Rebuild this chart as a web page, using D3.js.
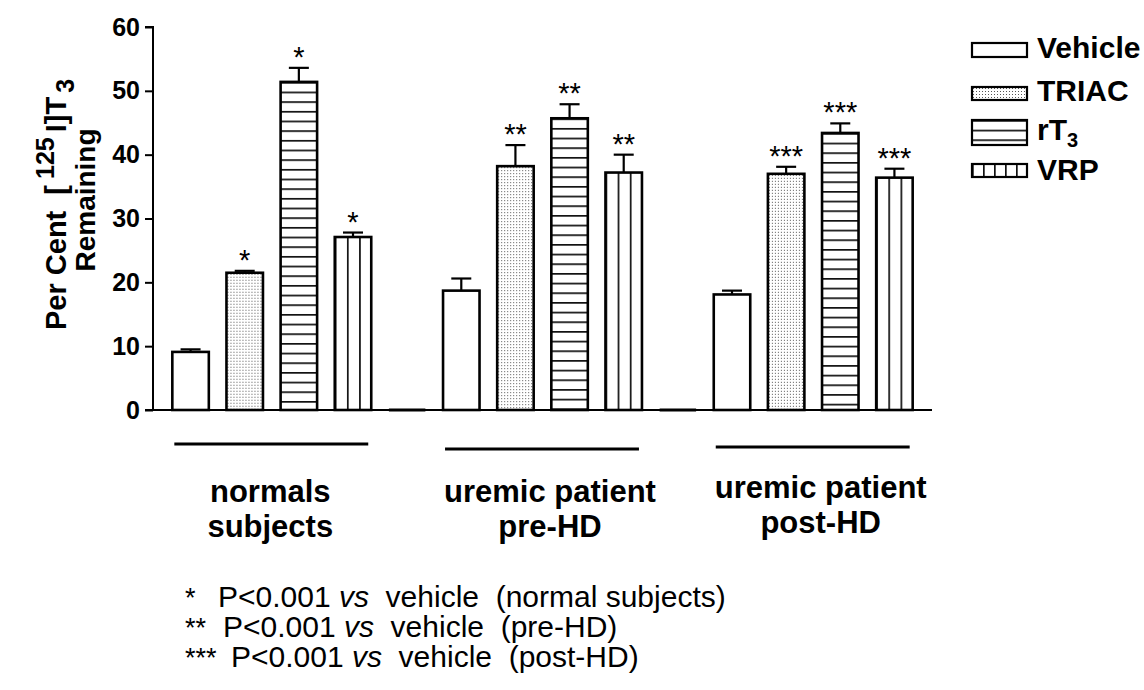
<!DOCTYPE html>
<html><head><meta charset="utf-8">
<script src="https://cdn.jsdelivr.net/npm/d3@7"></script>
<style>
html,body{margin:0;padding:0;background:#fff;}
svg{display:block;font-family:"Liberation Sans",Arial,sans-serif;}
.pre{white-space:pre;}
</style></head><body>
<svg id="chart" width="1144" height="690"></svg>
<script>
// ---- data ----
const groupLine1 = ["normals", "uremic patient", "uremic patient"];
const groupLine2 = ["subjects", "pre-HD", "post-HD"];
const treatments = ["Vehicle", "TRIAC", "rT3", "VRP"];

const vehicleMean = [9.1, 18.7, 18.1];
const vehicleSem  = [0.4, 1.9, 0.6];
const triacMean   = [21.5, 38.2, 37.0];
const triacSem    = [0.3, 3.3, 1.1];
const rt3Mean     = [51.4, 45.7, 43.4];
const rt3Sem      = [2.2, 2.2, 1.5];
const vrpMean     = [27.1, 37.2, 36.4];
const vrpSem      = [0.7, 2.8, 1.4];

const sigMarks = [
  ["", "*", "*", "*"],
  ["", "**", "**", "**"],
  ["", "***", "***", "***"]
];

const yTicks = [0, 10, 20, 30, 40, 50, 60];
const footMarks = ["*", "**", "***"];
const footRefs = ["(normal subjects)", "(pre-HD)", "(post-HD)"];

// ---- layout ----
const svg = d3.select("#chart");
const defs = svg.append("defs");
const axisX0 = 153, axisX1 = 932, baseY = 410, topY = 27;

const means = [vehicleMean, triacMean, rt3Mean, vrpMean];
const sems  = [vehicleSem, triacSem, rt3Sem, vrpSem];

// one band slot per bar, plus an empty slot between groups
const slots = [];
groupLine1.forEach((g, gi) => {
  treatments.forEach((t, ti) => slots.push({key: `g${gi}-${ti}`, gi, ti}));
  if (gi < groupLine1.length - 1) slots.push({key: `gap${gi}`, gap: true});
});

const x = d3.scaleBand()
  .domain(slots.map(d => d.key))
  .range([axisX0, axisX1])
  .paddingInner(0.326)
  .paddingOuter(0.357);
const bw = x.bandwidth();

const y = d3.scaleLinear().domain([0, 60]).range([baseY, topY]);

// ---- fills ----
let patId = 0;
function fillFor(type, px, py, stripe) {
  if (type === "Vehicle") return "#fff";
  const id = "pat" + (patId++);
  const p = defs.append("pattern").attr("id", id)
    .attr("patternUnits", "userSpaceOnUse").attr("x", px).attr("y", py);
  if (type === "TRIAC") {
    p.attr("width", 3).attr("height", 3);
    p.append("rect").attr("width", 3).attr("height", 3).attr("fill", "#fff");
    p.append("rect").attr("x", 1).attr("y", 1).attr("width", 1).attr("height", 1).attr("fill", "#555");
  } else if (type === "rT3") {
    p.attr("width", 10).attr("height", 9.67);
    p.append("rect").attr("width", 10).attr("height", 9.67).attr("fill", "#fff");
    p.append("rect").attr("y", 0).attr("width", 10).attr("height", 1.7).attr("fill", "#111");
  } else {
    p.attr("width", stripe).attr("height", 10);
    p.append("rect").attr("width", stripe).attr("height", 10).attr("fill", "#fff");
    p.append("rect").attr("x", 0).attr("width", 1.7).attr("height", 10).attr("fill", "#111");
  }
  return `url(#${id})`;
}

// ---- bars ----
const barData = slots.filter(d => !d.gap).map(d => ({
  ...d, v: means[d.ti][d.gi], e: sems[d.ti][d.gi], mark: sigMarks[d.gi][d.ti]
}));

svg.append("g").selectAll("rect").data(barData).join("rect")
  .attr("x", d => x(d.key))
  .attr("y", d => y(d.v))
  .attr("width", bw)
  .attr("height", d => y(0) - y(d.v))
  .attr("fill", d => fillFor(treatments[d.ti], x(d.key), y(d.v), bw / 3))
  .attr("stroke", "#000").attr("stroke-width", 2.6);

// empty separator slots sit on the baseline
svg.append("g").selectAll("line").data(slots.filter(d => d.gap)).join("line")
  .attr("x1", d => x(d.key)).attr("x2", d => x(d.key) + bw)
  .attr("y1", baseY).attr("y2", baseY)
  .attr("stroke", "#000").attr("stroke-width", 3);

// error bars (upper half)
const eb = svg.append("g").attr("stroke", "#000").attr("stroke-width", 2.2);
barData.forEach(d => {
  const cx = x(d.key) + bw / 2;
  eb.append("line").attr("x1", cx).attr("x2", cx).attr("y1", y(d.v)).attr("y2", y(d.v + d.e));
  eb.append("line").attr("x1", cx - 10).attr("x2", cx + 10).attr("y1", y(d.v + d.e)).attr("y2", y(d.v + d.e));
});

// significance marks
svg.append("g").selectAll("text").data(barData.filter(d => d.mark)).join("text")
  .attr("x", d => x(d.key) + bw / 2)
  .attr("y", d => y(d.v + d.e) - 1)
  .attr("text-anchor", "middle")
  .attr("font-size", 29)
  .text(d => d.mark);

// ---- axes ----
svg.append("line").attr("x1", axisX0).attr("x2", axisX1).attr("y1", baseY).attr("y2", baseY)
  .attr("stroke", "#000").attr("stroke-width", 2);

const yAxis = svg.append("g").attr("transform", `translate(${axisX0},0)`)
  .call(d3.axisLeft(y).tickValues(yTicks).tickSize(8).tickPadding(5).tickFormat(d3.format("d")));
yAxis.select(".domain").attr("stroke-width", 2).attr("d", `M-8,${y(60)}H0V${y(0)}H-8`);
yAxis.selectAll(".tick line").attr("stroke-width", 2);
yAxis.selectAll(".tick text").attr("font-size", 25).attr("font-weight", "bold")
  .attr("font-family", "'Liberation Sans', Arial, sans-serif").attr("fill", "#000");

// y title
const yt = svg.append("text").attr("class", "pre").attr("transform", "translate(66,330) rotate(-90)")
  .attr("text-anchor", "start").attr("font-size", 29).attr("font-weight", "bold");
yt.append("tspan").text("Per Cent  [");
yt.append("tspan").attr("font-size", 25).attr("dx", 6).attr("dy", -12).text("125");
yt.append("tspan").attr("dx", 5).attr("dy", 12).text("I]T");
yt.append("tspan").attr("font-size", 25).attr("dx", 4).attr("dy", 8).text("3");
svg.append("text").attr("transform", "translate(95,200) rotate(-90)")
  .attr("text-anchor", "middle").attr("font-size", 28).attr("font-weight", "bold")
  .text("Remaining");

// ---- group brackets and labels ----
const groupLineY = [444, 449, 447];
const labelDx = [-1, 8, 8];
const labelY = [502, 502, 498];
groupLine1.forEach((g, gi) => {
  const first = `g${gi}-0`, last = `g${gi}-3`;
  const x0 = x(first) + 2, x1 = x(last) + bw - 3;
  svg.append("line").attr("x1", x0).attr("x2", x1)
    .attr("y1", groupLineY[gi]).attr("y2", groupLineY[gi])
    .attr("stroke", "#000").attr("stroke-width", 3.2);
  const cx = (x0 + x1) / 2 + labelDx[gi];
  const t = svg.append("text").attr("text-anchor", "middle")
    .attr("font-size", 31).attr("font-weight", "bold");
  t.append("tspan").attr("x", cx).attr("y", labelY[gi]).text(g);
  t.append("tspan").attr("x", cx).attr("y", labelY[gi] + 35).text(groupLine2[gi]);
});

// ---- legend ----
const legBoxX = 972, legBoxW = 55, legTextX = 1037;
const legBoxY = [43, 87, 120, 164];
const legBoxH = [14, 13, 25, 13];
const legTextY = [58, 101, 140, 180];
treatments.forEach((t, i) => {
  svg.append("rect").attr("x", legBoxX).attr("y", legBoxY[i])
    .attr("width", legBoxW).attr("height", legBoxH[i])
    .attr("fill", fillFor(t, legBoxX, legBoxY[i], 11))
    .attr("stroke", "#000").attr("stroke-width", 2.2);
  const tx = svg.append("text").attr("x", legTextX).attr("y", legTextY[i])
    .attr("font-size", 30).attr("font-weight", "bold");
  if (t === "rT3") {
    tx.append("tspan").text("rT");
    tx.append("tspan").attr("font-size", 20).attr("dy", 7).text("3");
  } else {
    tx.text(t);
  }
});

// ---- footnotes ----
const footY = [607, 637, 667];
const footX = [218, 223, 231];
footMarks.forEach((m, i) => {
  svg.append("text").attr("x", 185).attr("y", footY[i]).attr("font-size", 27).text(m);
  const ft = svg.append("text").attr("class", "pre").attr("x", footX[i]).attr("y", footY[i])
    .attr("font-size", 30);
  ft.append("tspan").text("P<0.001 ");
  ft.append("tspan").attr("font-style", "italic").text("vs");
  ft.append("tspan").text("  vehicle  " + footRefs[i]);
});
</script>
</body></html>
